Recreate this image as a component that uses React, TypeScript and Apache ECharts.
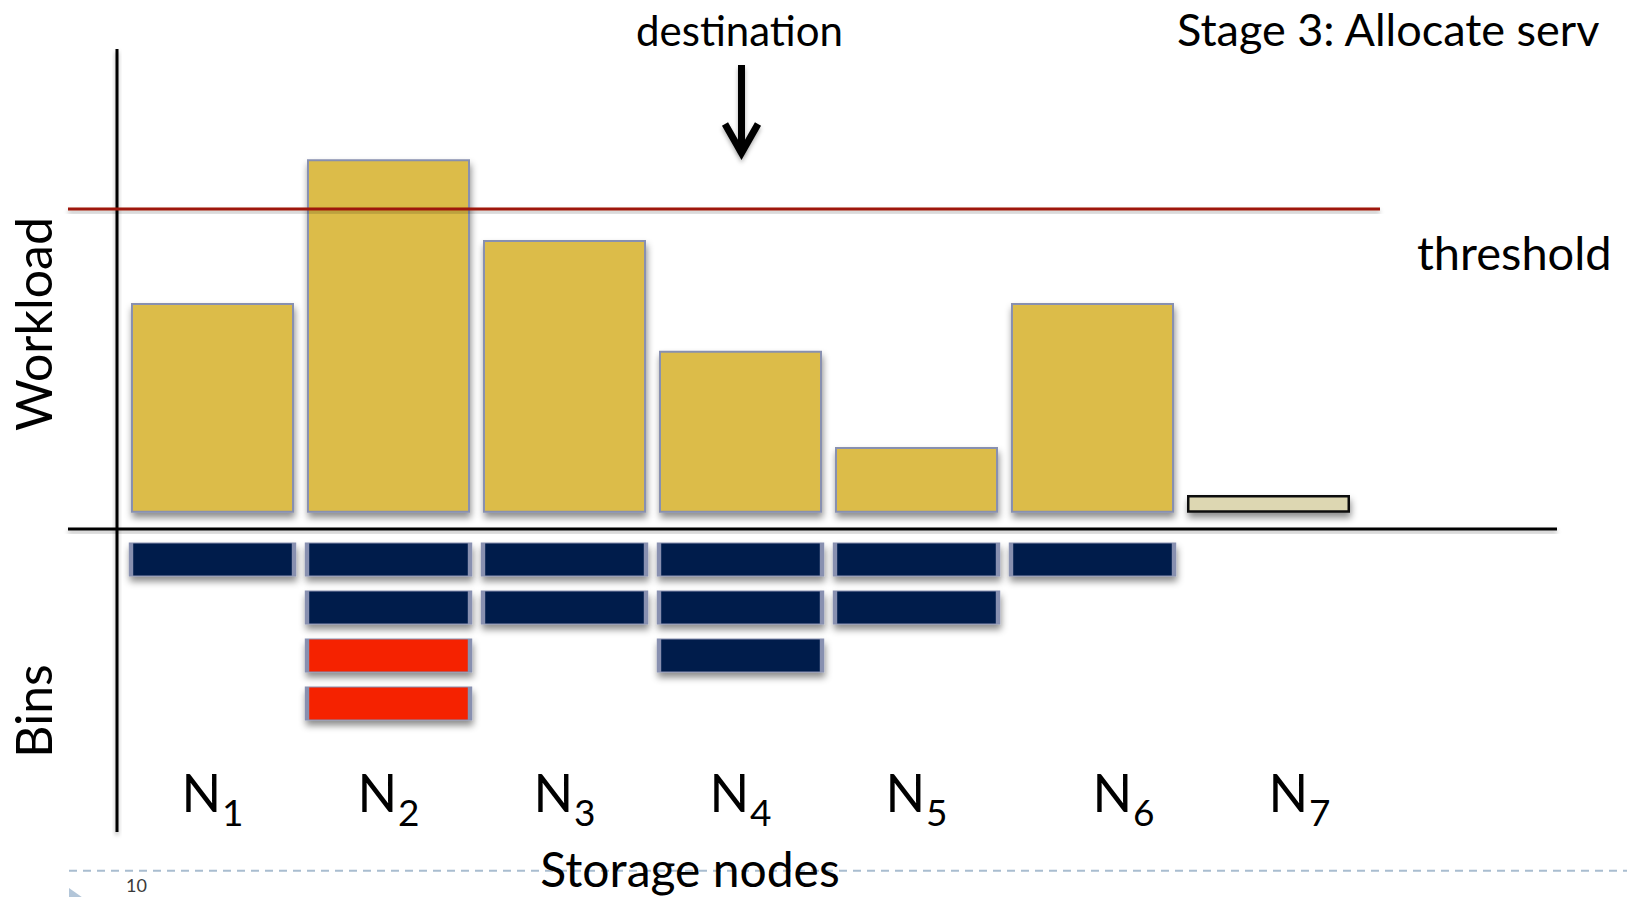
import React, { useEffect, useRef } from "react";
import * as echarts from "echarts";

// Storage nodes and their current workload (arbitrary units)
const NODES = ["N1", "N2", "N3", "N4", "N5", "N6", "N7"];
const WORKLOAD = [69, 116.4, 89.8, 53.3, 21.6, 69, 5.8];
const THRESHOLD = 100;
// newly allocated server, drawn in a pale colour
const NEW_NODE = "N7";
// number of bins held by each node: regular bins and bins to be moved
const NAVY_BINS = [1, 2, 2, 3, 2, 1, 0];
const RED_BINS = [0, 2, 0, 0, 0, 0, 0];

const FONT = "Lato, 'Open Sans', sans-serif";
const YELLOW = "#dcbc48";
const NAVY = "#001d4c";
const RED = "#f52300";
const BEIGE = "#ddd7b2";
const EDGE = "#8890b0";

const shadow = {
  shadowColor: "rgba(0,0,0,0.45)",
  shadowBlur: 7,
  shadowOffsetX: 1,
  shadowOffsetY: 5,
};

function binPoints(counts: number[], offsets: number[]) {
  const pts: number[][] = [];
  counts.forEach((c, i) => {
    for (let r = 0; r < c; r++) pts.push([i, offsets[i] + r + 0.5]);
  });
  return pts;
}

export default function App() {
  const ref = useRef<HTMLDivElement>(null);

  useEffect(() => {
    if (!ref.current) return;
    const chart = echarts.init(ref.current, null, { renderer: "svg" });

    const option: any = {
      animation: false,
      backgroundColor: "#ffffff",
      grid: [
        { left: 124.5, width: 1232, top: 148.2, height: 364.5 },
        { left: 124.5, width: 1232, top: 535.5, height: 216 },
      ],
      xAxis: [
        { gridIndex: 0, type: "category", data: NODES, show: false },
        {
          gridIndex: 1,
          type: "category",
          data: NODES,
          axisLine: { show: false },
          axisTick: { show: false },
          splitLine: { show: false },
          axisLabel: {
            margin: 14.5,
            interval: 0,
            formatter: (v: string) => {
              const pad = v === "N6" || v === "N7" ? "{pad| }" : "";
              return `${pad}{n|N}{s|${v.slice(1)}}`;
            },
            rich: {
              n: { fontSize: 52, fontFamily: FONT, color: "#000", lineHeight: 60, verticalAlign: "top" },
              s: { fontSize: 37, fontFamily: FONT, color: "#000", lineHeight: 40, padding: [27, 0, 0, 1], verticalAlign: "top" },
              pad: { width: 62, fontSize: 10, lineHeight: 10, verticalAlign: "top" },
            },
          },
        },
      ],
      yAxis: [
        { gridIndex: 0, type: "value", min: 0, max: 120, show: false },
        { gridIndex: 1, type: "value", min: 0, max: 4.5, inverse: true, show: false },
      ],
      series: [
        {
          type: "bar",
          xAxisIndex: 0,
          yAxisIndex: 0,
          barWidth: 163,
          data: WORKLOAD.map((w, i) =>
            NODES[i] === NEW_NODE
              ? { value: w, itemStyle: { color: BEIGE, borderColor: "#111", borderWidth: 2.5 } }
              : w
          ),
          itemStyle: { color: YELLOW, borderColor: EDGE, borderWidth: 2, ...shadow },
          emphasis: { disabled: true },
        },
        {
          type: "scatter",
          xAxisIndex: 1,
          yAxisIndex: 1,
          symbol: "rect",
          symbolSize: [163, 33],
          data: binPoints(NAVY_BINS, NAVY_BINS.map(() => 0)),
          itemStyle: { color: NAVY, borderColor: EDGE, borderWidth: 2, opacity: 1, ...shadow },
          emphasis: { disabled: true },
        },
        {
          type: "scatter",
          xAxisIndex: 1,
          yAxisIndex: 1,
          symbol: "rect",
          symbolSize: [163, 33],
          data: binPoints(RED_BINS, NAVY_BINS),
          itemStyle: { color: RED, borderColor: EDGE, borderWidth: 2, opacity: 1, ...shadow },
          emphasis: { disabled: true },
        },
      ],
    };
    chart.setOption(option);

    const yT = chart.convertToPixel({ yAxisIndex: 0 }, THRESHOLD) as number;
    // straight strokes are drawn as thin rects so their drop shadows render
    const lineShadow = { shadowColor: "rgba(0,0,0,0.3)", shadowBlur: 4, shadowOffsetY: 3 };

    const elements: any[] = [
      // slide footer rule and bullet
      {
        type: "line",
        shape: { x1: 69, y1: 870.7, x2: 1627, y2: 870.7 },
        style: { stroke: "#a9bdd0", lineWidth: 2, lineDash: [8, 6] },
      },
      {
        type: "polygon",
        shape: { points: [[69, 888], [69, 912], [86, 900]] },
        style: { fill: "#b3c6d9" },
      },
      {
        type: "text",
        x: 126,
        y: 876,
        style: { text: "10", fontSize: 18, fontFamily: FONT, fill: "#3a3a3a", align: "left", verticalAlign: "top" },
      },
      // axes
      {
        type: "rect",
        shape: { x: 115.5, y: 49, width: 3, height: 783 },
        style: { fill: "#000", ...lineShadow },
      },
      {
        type: "rect",
        shape: { x: 68, y: 527.5, width: 1489, height: 3 },
        style: { fill: "#000", ...lineShadow },
      },
      // threshold line, drawn over the bars
      {
        type: "rect",
        shape: { x: 68, y: yT - 1.5, width: 1312, height: 3 },
        style: { fill: "#9e1208", ...lineShadow },
      },
      // destination arrow
      {
        type: "rect",
        shape: { x: 738, y: 65, width: 7, height: 86 },
        style: { fill: "#000", ...lineShadow },
      },
      {
        type: "polyline",
        shape: { points: [[725, 124], [741.5, 153], [758, 124]] },
        style: { stroke: "#000", lineWidth: 7, lineJoin: "miter", fill: null, ...lineShadow },
      },
      // texts
      {
        type: "text",
        x: 739.5,
        y: 30,
        style: { text: "destination", fontSize: 42, fontFamily: FONT, fill: "#000", align: "center", verticalAlign: "middle" },
      },
      {
        type: "text",
        x: 1417,
        y: 252,
        style: { text: "threshold", fontSize: 47, fontFamily: FONT, fill: "#000", align: "left", verticalAlign: "middle" },
      },
      {
        type: "text",
        x: 1177,
        y: 6,
        style: { text: "Stage 3: Allocate serv", fontSize: 45, fontFamily: FONT, fill: "#000", align: "left", verticalAlign: "top" },
      },
      {
        type: "text",
        x: 690,
        y: 868,
        style: { text: "Storage nodes", fontSize: 48, fontFamily: FONT, fill: "#000", align: "center", verticalAlign: "middle" },
      },
      {
        type: "text",
        x: 33,
        y: 324,
        rotation: Math.PI / 2,
        style: { text: "Workload", fontSize: 50, fontFamily: FONT, fill: "#000", align: "center", verticalAlign: "middle" },
      },
      {
        type: "text",
        x: 33,
        y: 711,
        rotation: Math.PI / 2,
        style: { text: "Bins", fontSize: 50, fontFamily: FONT, fill: "#000", align: "center", verticalAlign: "middle" },
      },
    ];

    chart.setOption({ graphic: { elements: elements.map((e) => ({ ...e, z: 100 })) } });

    return () => chart.dispose();
  }, []);

  return (
    <div
      ref={ref}
      style={{ position: "fixed", left: 0, top: 0, width: 1627, height: 897, background: "#fff" }}
    />
  );
}
